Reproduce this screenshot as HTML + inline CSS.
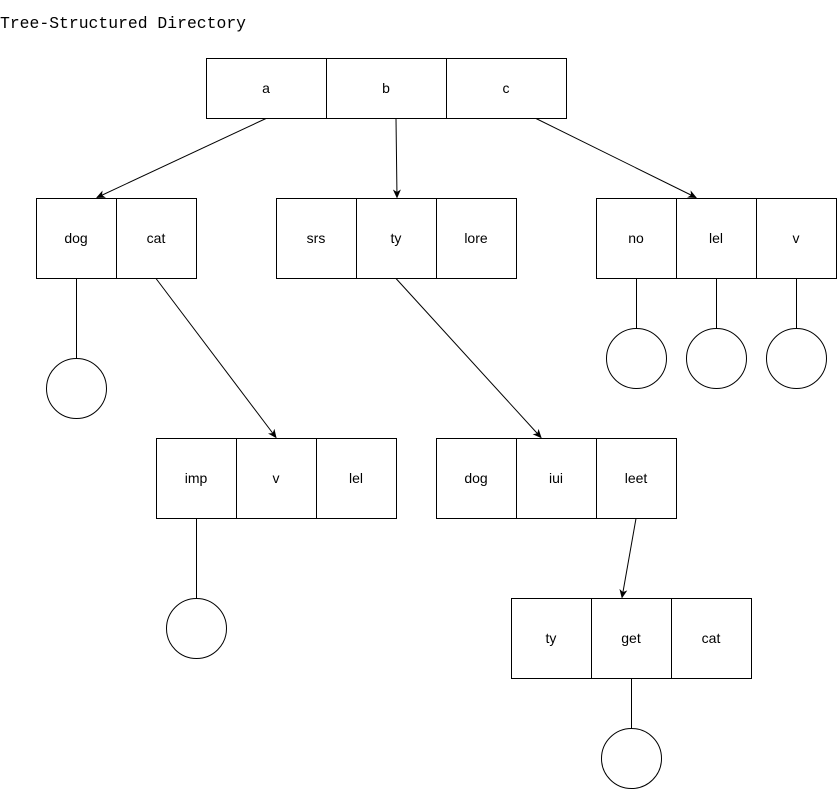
<!DOCTYPE html>
<html><head><style>html,body{margin:0;padding:0;background:#fff}</style></head>
<body>
<svg width="837" height="789" viewBox="0 0 837 789" xmlns="http://www.w3.org/2000/svg">
<defs><marker id="ar" markerWidth="10" markerHeight="10" refX="8" refY="5" orient="auto" markerUnits="userSpaceOnUse"><path d="M0,1 L9,5 L0,9 L2.5,5 Z" fill="#000"/></marker></defs>
<text x="0" y="28" font-family="Liberation Mono, monospace" font-size="17" textLength="246" lengthAdjust="spacingAndGlyphs">Tree-Structured Directory</text>
<g fill="#fff" stroke="#000" stroke-width="1">
<rect x="206.5" y="58.5" width="120" height="60"/><rect x="326.5" y="58.5" width="120" height="60"/><rect x="446.5" y="58.5" width="120" height="60"/>
<rect x="36.5" y="198.5" width="80" height="80"/><rect x="116.5" y="198.5" width="80" height="80"/>
<rect x="276.5" y="198.5" width="80" height="80"/><rect x="356.5" y="198.5" width="80" height="80"/><rect x="436.5" y="198.5" width="80" height="80"/>
<rect x="596.5" y="198.5" width="80" height="80"/><rect x="676.5" y="198.5" width="80" height="80"/><rect x="756.5" y="198.5" width="80" height="80"/>
<rect x="156.5" y="438.5" width="80" height="80"/><rect x="236.5" y="438.5" width="80" height="80"/><rect x="316.5" y="438.5" width="80" height="80"/>
<rect x="436.5" y="438.5" width="80" height="80"/><rect x="516.5" y="438.5" width="80" height="80"/><rect x="596.5" y="438.5" width="80" height="80"/>
<rect x="511.5" y="598.5" width="80" height="80"/><rect x="591.5" y="598.5" width="80" height="80"/><rect x="671.5" y="598.5" width="80" height="80"/>
<circle cx="76.5" cy="388.5" r="30"/>
<circle cx="636.5" cy="358.5" r="30"/><circle cx="716.5" cy="358.5" r="30"/><circle cx="796.5" cy="358.5" r="30"/>
<circle cx="196.5" cy="628.5" r="30"/><circle cx="631.5" cy="758.5" r="30"/>
</g>
<g stroke="#000" stroke-width="1" fill="none">
<line x1="266" y1="118.5" x2="97" y2="197.5" marker-end="url(#ar)"/>
<line x1="396" y1="118.5" x2="397" y2="197.5" marker-end="url(#ar)"/>
<line x1="536" y1="118.5" x2="696" y2="197.5" marker-end="url(#ar)"/>
<line x1="156" y1="278.5" x2="276" y2="437.5" marker-end="url(#ar)"/>
<line x1="396" y1="278.5" x2="541" y2="437.5" marker-end="url(#ar)"/>
<line x1="636" y1="518.5" x2="622" y2="597.5" marker-end="url(#ar)"/>
<line x1="76.5" y1="278.5" x2="76.5" y2="358.5"/>
<line x1="636.5" y1="278.5" x2="636.5" y2="328.5"/>
<line x1="716.5" y1="278.5" x2="716.5" y2="328.5"/>
<line x1="796.5" y1="278.5" x2="796.5" y2="328.5"/>
<line x1="196.5" y1="518.5" x2="196.5" y2="598.5"/>
<line x1="631.5" y1="678.5" x2="631.5" y2="728.5"/>
</g>
<g font-family="Liberation Sans, Arial, sans-serif" font-size="14" text-anchor="middle">
<text x="266" y="93">a</text><text x="386" y="93">b</text><text x="506" y="93">c</text>
<text x="76" y="243">dog</text><text x="156" y="243">cat</text>
<text x="316" y="243">srs</text><text x="396" y="243">ty</text><text x="476" y="243">lore</text>
<text x="636" y="243">no</text><text x="716" y="243">lel</text><text x="796" y="243">v</text>
<text x="196" y="483">imp</text><text x="276" y="483">v</text><text x="356" y="483">lel</text>
<text x="476" y="483">dog</text><text x="556" y="483">iui</text><text x="636" y="483">leet</text>
<text x="551" y="643">ty</text><text x="631" y="643">get</text><text x="711" y="643">cat</text>
</g>
</svg>
</body></html>
